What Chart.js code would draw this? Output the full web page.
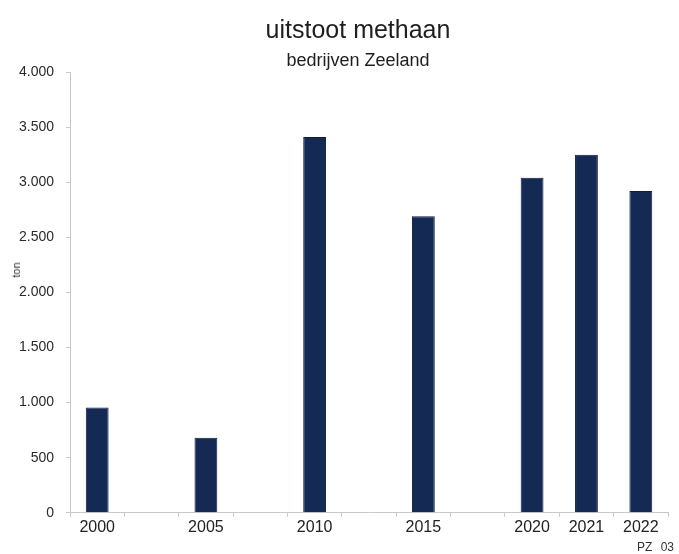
<!DOCTYPE html>
<html>
<head>
<meta charset="utf-8">
<script src="https://cdn.jsdelivr.net/npm/chart.js@4"></script>
<style>
  body { margin: 0; background: #fff; }
  #wrap { position: relative; width: 679px; height: 554px; overflow: hidden; font-family: "Liberation Sans", Arial, sans-serif; }
  .head { position: absolute; left: 358px; transform: translateX(-50%); white-space: nowrap; color: #1e1e1e; }
  #title { top: 14px; font-size: 25px; line-height: 30px; }
  #subtitle { top: 49px; font-size: 18px; line-height: 22px; }
  #unit { position: absolute; left: 16px; top: 270px; transform: translate(-50%, -50%) rotate(-90deg); font-size: 11px; color: #333; white-space: nowrap; }
  #tag { position: absolute; left: 637px; top: 540px; font-size: 12px; color: #333; white-space: nowrap; word-spacing: 5px; }
</style>
</head>
<body>
<div id="wrap">
  <canvas id="chart" width="679" height="554"></canvas>
  <div class="head" id="title">uitstoot methaan</div>
  <div class="head" id="subtitle">bedrijven Zeeland</div>
  <div id="unit">ton</div>
  <div id="tag">PZ 03</div>
</div>
<script>
// years on the axis, blanks keep the 5-year gaps
const years = ["2000", "", "2005", "", "2010", "", "2015", "", "2020", "2021", "2022"];
// methane emissions, companies Zeeland (ton)
const methaan = [955, null, 680, null, 3410, null, 2690, null, 3040, 3250, 2920];
const yTicks = [0, 500, 1000, 1500, 2000, 2500, 3000, 3500, 4000];

const fontFam = '"Liberation Sans", Arial, sans-serif';

new Chart(document.getElementById("chart").getContext("2d"), {
  type: "bar",
  data: {
    labels: years,
    datasets: [{
      label: "uitstoot methaan",
      data: methaan,
      backgroundColor: "#142a55",
      borderColor: "#0e1d3c",
      borderWidth: 1,
      categoryPercentage: 1,
      barPercentage: 0.42,
    }],
  },
  options: {
    responsive: false,
    animation: false,
    layout: { padding: { left: 4, right: 11, top: 72, bottom: 16 } },
    plugins: {
      legend: { display: false },
      tooltip: { enabled: false },
    },
    scales: {
      x: {
        grid: { display: true, drawOnChartArea: false, drawTicks: true, tickLength: 4, tickColor: "#c8c8c8" },
        border: { color: "#c8c8c8" },
        ticks: { color: "#222", font: { family: fontFam, size: 16 }, maxRotation: 0, autoSkip: false, padding: 1 },
      },
      y: {
        min: 0,
        max: 4000,
        afterBuildTicks: (axis) => { axis.ticks = yTicks.map(v => ({ value: v })); },
        afterFit: (axis) => { axis.width = 66; },
        grid: { display: true, drawOnChartArea: false, drawTicks: true, tickLength: 4, tickColor: "#c8c8c8" },
        border: { color: "#c8c8c8" },
        ticks: {
          color: "#2a2a2a",
          font: { family: fontFam, size: 14 },
          padding: 12,
          callback: (v) => v.toLocaleString("nl-NL"),
        },
      },
    },
  },
});
</script>
</body>
</html>
